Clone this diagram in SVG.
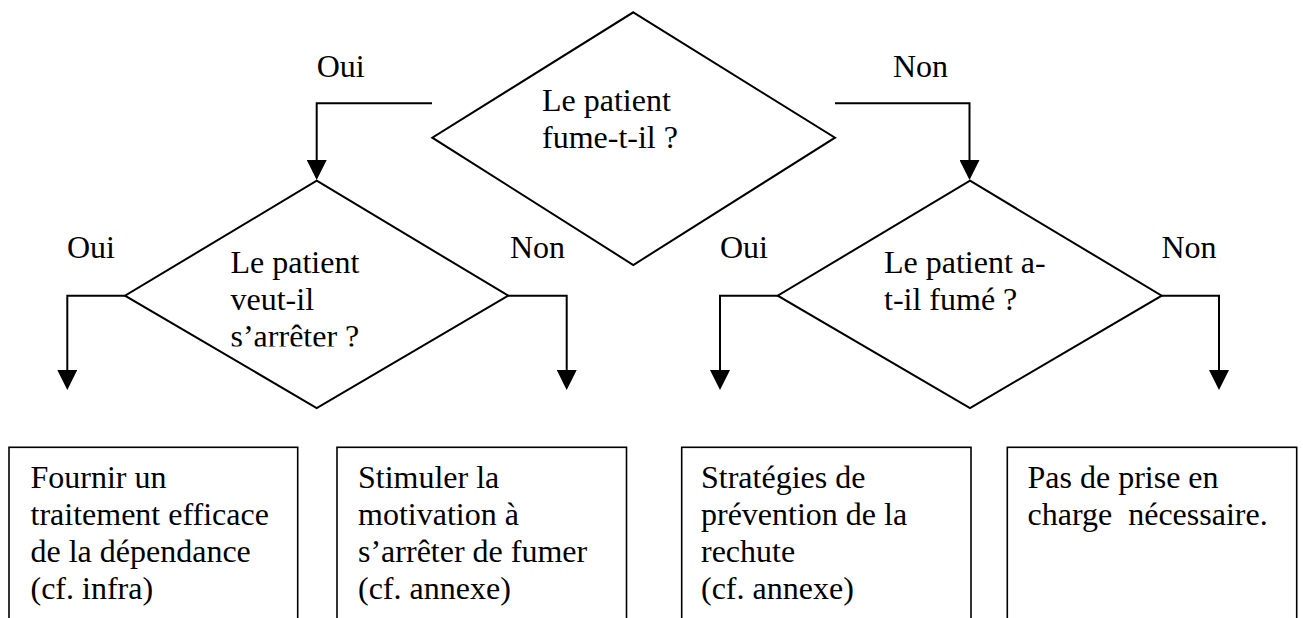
<svg xmlns="http://www.w3.org/2000/svg" width="1303" height="618" viewBox="0 0 1303 618" font-family="'Liberation Serif', 'Times New Roman', 'DejaVu Serif', serif">
<style>
text{font-family:'Liberation Serif','Times New Roman','DejaVu Serif',serif;font-size:32px;fill:#000;white-space:pre}
.shape{fill:#fff;stroke:#000;stroke-width:2}
.box{fill:#fff;stroke:#000;stroke-width:1.6}
.conn{fill:none;stroke:#000;stroke-width:2}
</style>
<defs>
<marker id="arrow" viewBox="0 0 20 20" refX="0" refY="10" markerWidth="20" markerHeight="20" markerUnits="userSpaceOnUse" orient="auto">
<path d="M0,0 L20,10 L0,20 z" fill="#000"/>
</marker>
<clipPath id="clipLeft"><rect x="0" y="0" width="1303" height="346.5"/></clipPath>
</defs>
<rect width="1303" height="618" fill="#fff"/>
<g id="connectors">
<path class="conn" d="M432,103.3 H316.7 V160" marker-end="url(#arrow)"/>
<path class="conn" d="M835,103.3 H969.5 V160" marker-end="url(#arrow)"/>
<path class="conn" d="M125,295.7 H67.3 V370" marker-end="url(#arrow)"/>
<path class="conn" d="M508.3,295.7 H566.7 V370" marker-end="url(#arrow)"/>
<path class="conn" d="M777.7,295.7 H720 V370" marker-end="url(#arrow)"/>
<path class="conn" d="M1161.7,295.7 H1219 V370" marker-end="url(#arrow)"/>
<text x="316.7" y="76.7">Oui</text>
<text x="893" y="76.7">Non</text>
<text x="67" y="258.3">Oui</text>
<text x="510" y="258.3">Non</text>
<text x="720" y="258.3">Oui</text>
<text x="1161.5" y="258.3">Non</text>
</g>
<g id="q1">
<polygon class="shape" points="633.3,12.3 835,137.7 633.3,265 432.3,137.7"/>
<text x="542" y="111">Le patient</text>
<text x="542" y="147.7">fume-t-il ?</text>
</g>
<g id="q2">
<polygon class="shape" points="316.7,180.7 508.3,295.7 316.7,408 125,295.7"/>
<text x="230.5" y="273.3">Le patient</text>
<text x="230.5" y="310">veut-il</text>
<text x="230.5" y="346.8" clip-path="url(#clipLeft)">s’arrêter ?</text>
</g>
<g id="q3">
<polygon class="shape" points="970,180.7 1161.7,295.7 970,408 777.7,295.7"/>
<text x="884" y="273.3">Le patient a-</text>
<text x="884" y="310">t-il fumé ?</text>
</g>
<g id="box1">
<rect class="box" x="9" y="447.3" width="288.7" height="200"/>
<text x="30.5" y="488.3">Fournir un</text>
<text x="30.5" y="525.3">traitement efficace</text>
<text x="30.5" y="562.3">de la dépendance</text>
<text x="30.5" y="599.3">(cf. infra)</text>
</g>
<g id="box2">
<rect class="box" x="337" y="447.3" width="289.5" height="200"/>
<text x="358" y="488.3">Stimuler la</text>
<text x="358" y="525.3">motivation à</text>
<text x="358" y="562.3">s’arrêter de fumer</text>
<text x="358" y="599.3">(cf. annexe)</text>
</g>
<g id="box3">
<rect class="box" x="681.7" y="447.3" width="289.3" height="200"/>
<text x="701" y="488.3">Stratégies de</text>
<text x="701" y="525.3">prévention de la</text>
<text x="701" y="562.3">rechute</text>
<text x="701" y="599.3">(cf. annexe)</text>
</g>
<g id="box4">
<rect class="box" x="1007.3" y="447.3" width="289.4" height="200"/>
<text x="1027.5" y="488.3">Pas de prise en</text>
<text x="1027.5" y="525.3">charge  nécessaire.</text>
</g>
</svg>
